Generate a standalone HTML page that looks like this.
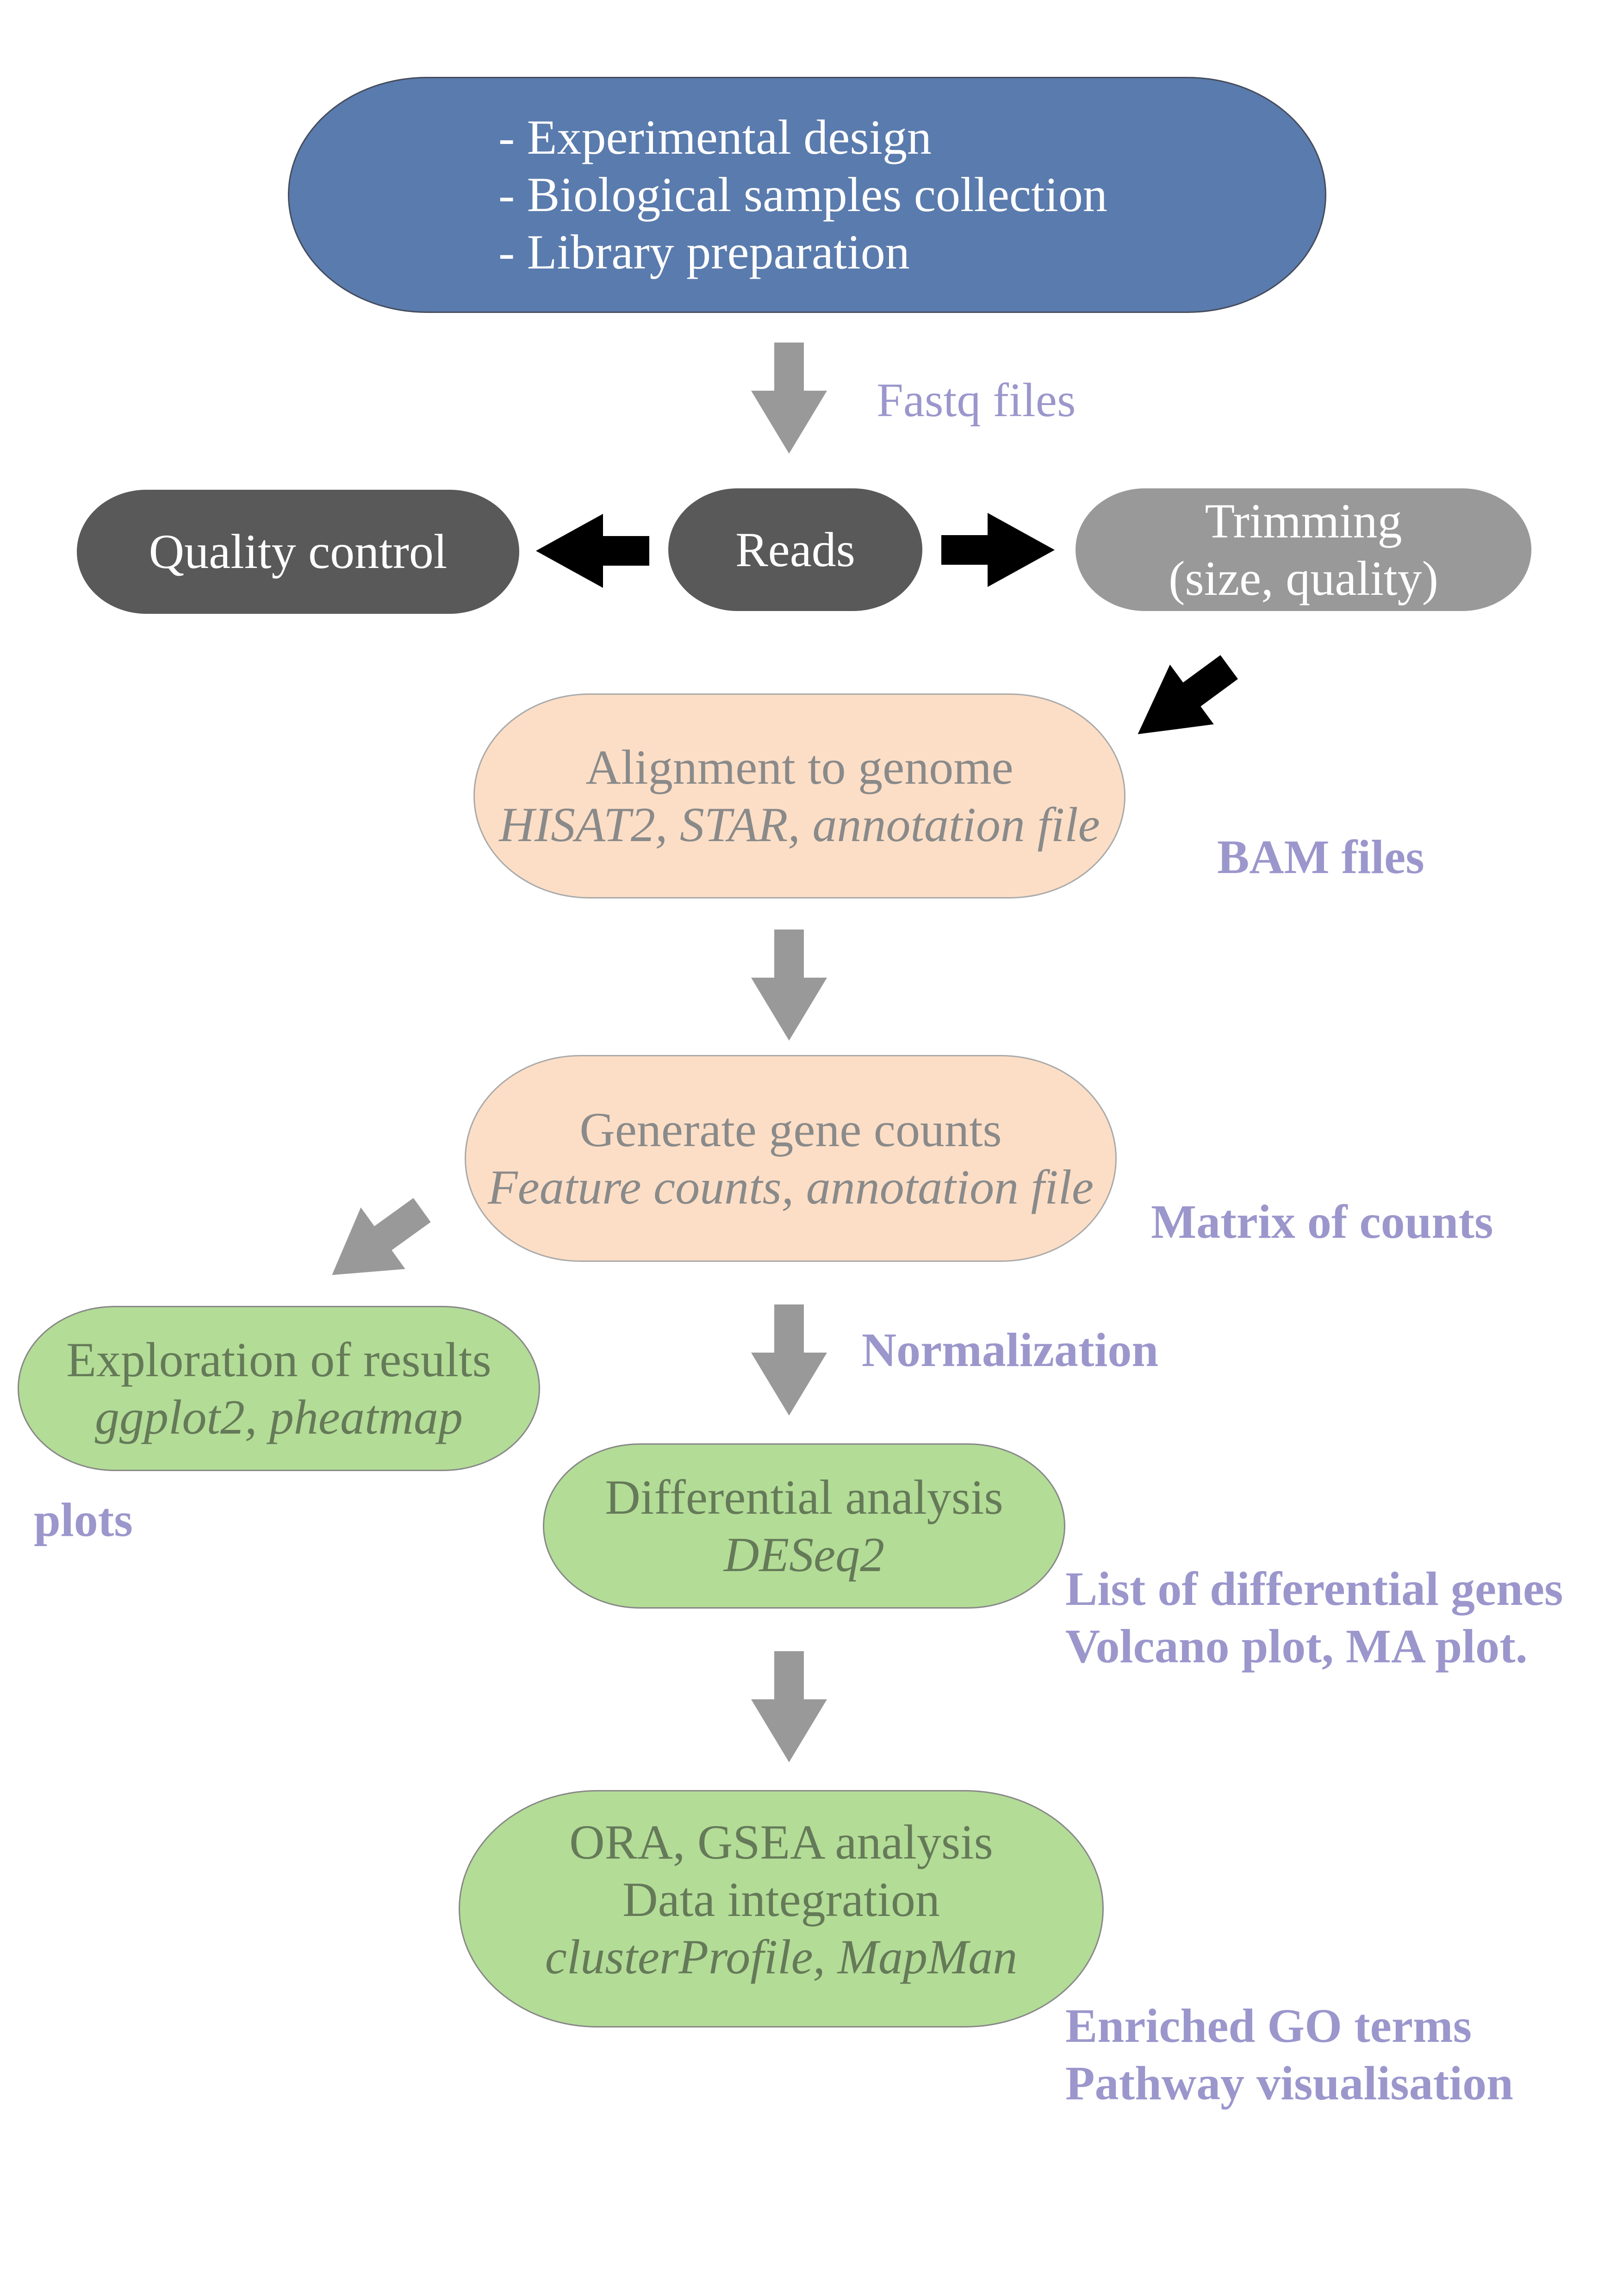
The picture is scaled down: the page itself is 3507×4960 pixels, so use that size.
<!DOCTYPE html>
<html><head><meta charset="utf-8"><style>
html,body{margin:0;padding:0;background:#fff;}
body{width:3507px;height:4960px;position:relative;overflow:hidden;font-family:"Liberation Serif",serif;}
.b{position:absolute;box-sizing:border-box;display:flex;flex-direction:column;justify-content:center;align-items:center;text-align:center;font-size:106px;line-height:124px;}
.l{position:absolute;font-size:104px;color:#9b97cc;line-height:124px;white-space:nowrap;}
.bold{font-weight:bold;}
i{font-style:italic;}
</style></head><body>
<svg width="3507" height="4960" style="position:absolute;left:0;top:0">
<defs>
<polygon id="ag" points="0,-32 104,-32 104,-82 240,0 104,82 104,32 0,32"/>
<polygon id="ab" points="0,-32 100,-32 100,-80 245,0 100,80 100,32 0,32"/>
</defs>
<g fill="#999">
<use href="#ag" transform="translate(1705,740) rotate(90)"/>
<use href="#ag" transform="translate(1705,2008) rotate(90)"/>
<use href="#ag" transform="translate(1705,2818) rotate(90)"/>
<use href="#ag" transform="translate(1705,3567) rotate(90)"/>
<use href="#ag" transform="translate(912,2614) rotate(144.2)"/>
</g>
<g fill="#000">
<use href="#ab" transform="translate(1403,1190) rotate(180)"/>
<use href="#ab" transform="translate(2034,1188)"/>
<use href="#ab" transform="translate(2656,1441) rotate(143.7)"/>
</g>
</svg>

<div class="b" style="left:622px;top:166px;width:2244px;height:510px;background:#5a7bad;border:3px solid #454c5c;border-radius:300px/50%;color:#fff;align-items:flex-start;padding-left:452px;">
<div>- Experimental design</div><div>- Biological samples collection</div><div>- Library preparation</div></div>
<div class="l" style="left:1894px;top:803px;">Fastq files</div>

<div class="b" style="left:166px;top:1058px;width:956px;height:268px;background:#595959;border-radius:150px/50%;color:#fff;">Quality control</div>
<div class="b" style="left:1444px;top:1055px;width:549px;height:265px;background:#595959;border-radius:150px/50%;color:#fff;">Reads</div>
<div class="b" style="left:2324px;top:1055px;width:985px;height:265px;background:#999;border-radius:150px/50%;color:#fff;"><div>Trimming</div><div>(size, quality)</div></div>

<div class="b" style="left:1023px;top:1498px;width:1409px;height:443px;background:#fcdec6;border:3px solid #aaa;border-radius:250px/50%;color:#8a8a8a;"><div>Alignment to genome</div><div><i>HISAT2, STAR, annotation file</i></div></div>
<div class="l bold" style="left:2630px;top:1790px;">BAM files</div>

<div class="b" style="left:1004px;top:2279px;width:1409px;height:447px;background:#fcdec6;border:3px solid #aaa;border-radius:250px/50%;color:#8a8a8a;"><div>Generate gene counts</div><div><i>Feature counts, annotation file</i></div></div>
<div class="l bold" style="left:2487px;top:2578px;">Matrix of counts</div>

<div class="b" style="left:38px;top:2821px;width:1129px;height:357px;background:#b3dc97;border:3px solid #888;border-radius:210px/50%;color:#657a58;"><div>Exploration of results</div><div><i>ggplot2, pheatmap</i></div></div>
<div class="l bold" style="left:73px;top:3222px;">plots</div>

<div class="l bold" style="left:1862px;top:2855px;">Normalization</div>

<div class="b" style="left:1173px;top:3118px;width:1129px;height:357px;background:#b3dc97;border:3px solid #888;border-radius:210px/50%;color:#657a58;"><div>Differential analysis</div><div><i>DESeq2</i></div></div>
<div class="l bold" style="left:2302px;top:3371px;">List of differential genes<br>Volcano plot, MA plot.</div>

<div class="b" style="left:991px;top:3867px;width:1394px;height:513px;background:#b3dc97;border:3px solid #888;border-radius:300px/50%;color:#657a58;padding-bottom:40px;"><div>ORA, GSEA analysis</div><div>Data integration</div><div><i>clusterProfile, MapMan</i></div></div>
<div class="l bold" style="left:2302px;top:4315px;">Enriched GO terms<br>Pathway visualisation</div>
</body></html>
